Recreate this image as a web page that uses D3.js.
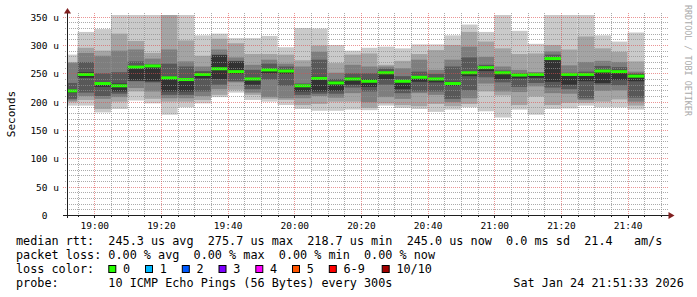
<!DOCTYPE html>
<html><head><meta charset="utf-8">
<script src="https://cdn.jsdelivr.net/npm/d3@7"></script>
<style>
html,body{margin:0;padding:0;background:#fff;}
svg{display:block;}
text{font-family:"DejaVu Sans Mono",monospace;fill:#000;}
</style></head><body>
<svg id="c" width="697" height="297"></svg>
<script>
// ---- data ----
const barEnds = ["18:55","19:00","19:05","19:10","19:15","19:20","19:25","19:30","19:35","19:40",
  "19:45","19:50","19:55","20:00","20:05","20:10","20:15","20:20","20:25","20:30",
  "20:35","20:40","20:45","20:50","20:55","21:00","21:05","21:10","21:15","21:20",
  "21:25","21:30","21:35","21:40","21:45"];
const medians = [219,248,232,228,261,263,242,239,248,258,253,240,256,254,228,241,233,240,236,251,
  236,243,240,232,251,260,251,247,248,276,248,248,254,253,245];
// 10 sorted ping RTTs (us) per 5-minute step
const smoke = [
  [193,199,202,205,216,221,233,268,270,283],
  [193,203,210,216,242,252,270,286,295,323],
  [181,187,205,210,226,234,250,281,290,328],
  [187,200,208,214,218,232,252,290,320,358],
  [202,218,224,236,237,262,271,292,307,358],
  [197,205,218,234,236,263,266,276,286,358],
  [177,200,206,212,218,244,267,292,358,360],
  [190,200,206,212,218,240,262,271,308,358],
  [197,203,210,218,241,251,254,262,281,317],
  [208,212,222,230,240,282,283,292,311,320],
  [216,221,234,236,249,271,272,278,303,312],
  [203,212,216,222,230,242,256,265,284,312],
  [200,205,208,239,250,258,267,274,284,316],
  [194,203,206,228,249,256,262,267,283,296],
  [187,194,206,212,218,230,232,262,273,330],
  [184,196,210,214,218,244,274,288,299,329],
  [184,200,207,214,219,236,240,251,268,300],
  [186,200,215,225,230,243,250,265,283,290],
  [185,189,199,218,226,240,250,262,285,295],
  [193,197,208,230,240,253,258,262,265,297],
  [189,194,205,215,222,238,245,259,272,294],
  [187,192,215,218,235,245,253,274,284,301],
  [182,196,212,218,234,242,249,256,291,301],
  [186,192,199,205,228,235,262,274,300,317],
  [190,196,206,220,245,253,278,297,323,336],
  [183,218,232,243,254,262,265,279,306,323],
  [172,211,218,234,240,253,255,262,294,358],
  [186,194,217,226,241,249,250,256,284,325],
  [177,209,227,233,242,250,251,252,285,302],
  [187,194,215,225,235,277,283,289,300,358],
  [188,198,214,222,230,250,251,264,292,358],
  [193,198,203,206,236,250,253,270,315,358],
  [190,200,219,230,233,256,263,272,294,317],
  [190,204,220,229,238,256,261,270,288,306],
  [186,193,200,207,236,248,250,253,271,322]
];
const yTicks = [0,50,100,150,200,250,300,350];
const yTickLabels = ["0","50 u","100 u","150 u","200 u","250 u","300 u","350 u"];
const lossLabels = ["0","1","2","3","4","5","6-9","10/10"];
const lossColors = ["#26ff00","#00b8ff","#0059ff","#7e00ff","#ff00ff","#ff5500","#ff0000","#a10000"];
const smokeGreys = ["#cacaca","#a4a4a4","#7e7e7e","#585858","#323232"];
const legendLines = [
  "median rtt:  245.3 us avg  275.7 us max  218.7 us min  245.0 us now  0.0 ms sd  21.4   am/s",
  "packet loss: 0.00 % avg  0.00 % max  0.00 % min  0.00 % now",
  "loss color:",
  "probe:       10 ICMP Echo Pings (56 Bytes) every 300s"
];
const stampText = "Sat Jan 24 21:51:33 2026";
const yTitle = "Seconds";
const watermark = "RRDTOOL / TOBI OETIKER";

// ---- layout ----
const svg = d3.select("#c");
const L = 67, R = 667, T = 15, B = 215;
const tOf = s => { const [h,m] = s.split(":").map(Number); return Date.UTC(2026,0,24,h,m); };
const tStart = Date.UTC(2026,0,24,18,51,49), tEnd = tStart + 3*3600e3;
const x = d3.scaleUtc().domain([tStart,tEnd]).range([L,R]);
const y = d3.scaleLinear().domain([0,352.9]).range([B,T]);

svg.append("rect").attr("width",697).attr("height",297).attr("fill","#fff");
svg.append("clipPath").attr("id","pc").append("rect").attr("x",L).attr("y",T).attr("width",R-L).attr("height",B-T);
const plot = svg.append("g").attr("clip-path","url(#pc)");

smoke.forEach((p,i) => {
  const te = tOf(barEnds[i]);
  const ts = Math.max(te - 300e3, tStart);
  const x0 = x(ts), x1 = x(te);
  for (let k=0;k<5;k++){
    const lo = p[k], hi = p[9-k];
    plot.append("rect").attr("x",x0).attr("width",x1-x0)
      .attr("y",y(hi)).attr("height",y(lo)-y(hi)).attr("fill",smokeGreys[k]);
  }
  plot.append("rect").attr("x",x0).attr("width",x1-x0)
    .attr("y",y(medians[i])-1.5).attr("height",3).attr("fill",lossColors[0]);
});

// grid
const grid = svg.append("g").attr("fill","none").attr("stroke-width",1).attr("stroke-dasharray","1,1");
d3.range(0,351,10).forEach(v => {
  const major = v % 50 === 0;
  if (v === 0) return;
  const yy = Math.round(y(v)) + 0.5;
  grid.append("line").attr("x1",major?63:65).attr("x2",669).attr("y1",yy).attr("y2",yy)
    .attr("stroke", major ? "rgba(222,79,79,0.6)" : "rgba(143,143,143,0.75)");
});
const minorT = d3.utcMinute.every(5).range(tStart, tEnd);
minorT.forEach(t => {
  const major = t.getUTCMinutes() % 20 === 0;
  const xx = Math.round(x(t)) + 0.5;
  grid.append("line").attr("x1",xx).attr("x2",xx).attr("y1",13).attr("y2",217)
    .attr("stroke", major ? "rgba(222,79,79,0.6)" : "rgba(143,143,143,0.75)");
  svg.append("line").attr("x1",xx).attr("x2",xx).attr("y1",215).attr("y2",major?218:217)
    .attr("stroke","#1f1f1f");
});

// axes
svg.append("line").attr("x1",63).attr("x2",670).attr("y1",215.5).attr("y2",215.5).attr("stroke","#1f1f1f");
svg.append("line").attr("x1",67.5).attr("x2",67.5).attr("y1",218).attr("y2",12).attr("stroke","#1f1f1f");
svg.append("path").attr("d","M64,13.5L71,13.5L67.5,8Z").attr("fill","#801f1f");
svg.append("path").attr("d","M668.5,212L668.5,219L674.5,215.5Z").attr("fill","#801f1f");

// y labels
const fsAx = 9.5, adv = 0.602*fsAx;
yTicks.forEach((v,i) => {
  const lab = yTickLabels[i];
  const xr = lab.indexOf(" ")<0 ? 59 - 2*adv : 59;
  svg.append("text").attr("x",xr).attr("y",Math.round(y(v))+3.5).attr("text-anchor","end")
    .attr("font-size",fsAx).text(lab);
});
// x labels
const fmt = d3.utcFormat("%H:%M");
d3.utcMinute.every(20).range(tStart,tEnd).forEach(t => {
  svg.append("text").attr("x",x(t)+0.5).attr("y",228.5).attr("text-anchor","middle")
    .attr("font-size",fsAx).text(fmt(t));
});

svg.append("text").attr("transform","translate(14.5,114) rotate(-90)").attr("text-anchor","middle")
  .attr("font-size",11).text(yTitle);
svg.append("text").attr("transform","translate(684.5,5) rotate(90)")
  .attr("font-size",8.4).style("fill","#aaaaaa").text(watermark);

// legend
const fsL = 11.8;
const baseY = [245,259,273,287];
legendLines.forEach((s,i) => {
  svg.append("text").attr("x",16).attr("y",baseY[i]).attr("font-size",fsL)
    .attr("xml:space","preserve").style("white-space","pre").text(s);
});
const sqX = [108.3,145,181.8,218.5,255.3,292,328.8,381.7];
lossLabels.forEach((lab,i) => {
  svg.append("rect").attr("x",sqX[i]+0.5).attr("y",265.5).attr("width",7).attr("height",7)
    .attr("fill",lossColors[i]).attr("stroke","#000").attr("stroke-width",1);
  svg.append("text").attr("x",sqX[i]+14.7).attr("y",273).attr("font-size",fsL).text(lab);
});
svg.append("text").attr("x",513.3).attr("y",287).attr("font-size",fsL).text(stampText);
</script></body></html>
